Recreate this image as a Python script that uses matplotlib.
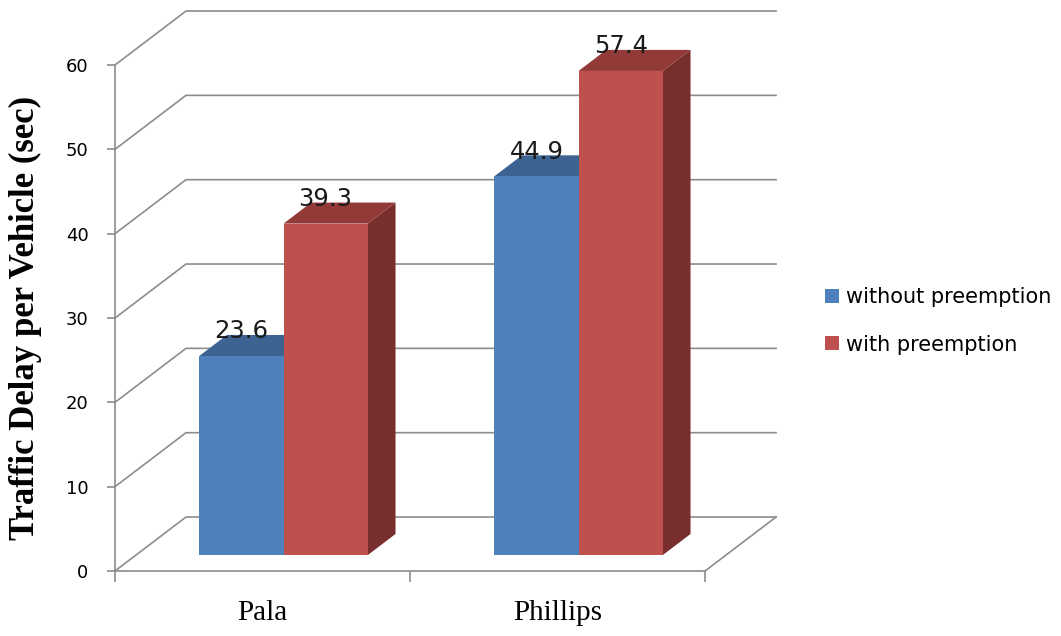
import matplotlib.pyplot as plt
from matplotlib.patches import Polygon, Patch

# Traffic delay per vehicle (sec) at each intersection
sites = ['Pala', 'Phillips']
without_preemption = [23.6, 44.9]
with_preemption = [39.3, 57.4]
series_names = ['without preemption', 'with preemption']
y_ticks = [0, 10, 20, 30, 40, 50, 60]

# face colours: front, top, side
blue = ('#4F81BD', '#3D6392', '#35567F')
red = ('#C0504D', '#923A38', '#782E2C')
grid_c = '#8c8c8c'

# oblique offset of the back wall, in data units
DX, DY = 0.2407, 6.4
# the bars sit between these fractions of the floor depth
D0, D1 = 0.296, 0.686
bar_w = 1 / 3.5   # two bars plus a 150 % gap per category

fig = plt.figure(figsize=(10.61, 6.36), dpi=100)
ax = fig.add_axes([0.1084, 0.1022, 0.5561, 0.7956])
ax.set_xlim(0, 2)
ax.set_ylim(0, 60)
ax.patch.set_alpha(0)

# back wall gridlines and floor outline
for v in y_ticks:
    ax.plot([0, DX, 2 + DX], [v, v + DY, v + DY], color=grid_c, lw=1.2,
            clip_on=False, zorder=1)
ax.plot([2, 2 + DX], [0, DY], color=grid_c, lw=1.2, clip_on=False, zorder=1)


def draw_bar(x0, v, cols, z):
    front, top, side = cols
    ox, oy = D0 * DX, D0 * DY
    dx, dy = (D1 - D0) * DX, (D1 - D0) * DY
    xa, xb = x0 + ox, x0 + ox + bar_w
    faces = [
        ([(xb, oy), (xb + dx, oy + dy), (xb + dx, v + oy + dy), (xb, v + oy)], side),
        ([(xa, v + oy), (xb, v + oy), (xb + dx, v + oy + dy), (xa + dx, v + oy + dy)], top),
        ([(xa, oy), (xb, oy), (xb, v + oy), (xa, v + oy)], front),
    ]
    for pts, c in faces:
        ax.add_patch(Polygon(pts, closed=True, fc=c, ec='none', clip_on=False, zorder=z))
    ax.text((xa + xb) / 2, v + oy + 2.1, f'{v}', ha='center', va='baseline',
            fontsize=17.5, color='#1a1a1a', zorder=z + 0.5)


z = 2
for i in range(len(sites)):
    c = i + 0.5
    draw_bar(c - bar_w, without_preemption[i], blue, z)
    draw_bar(c, with_preemption[i], red, z + 1)
    z += 2

# front axes
for s in ('top', 'right'):
    ax.spines[s].set_visible(False)
for s in ('left', 'bottom'):
    ax.spines[s].set_color(grid_c)
    ax.spines[s].set_linewidth(1.2)

ax.set_yticks(y_ticks)
ax.tick_params(axis='y', length=6, width=1.2, color=grid_c, pad=13, labelsize=13)
ax.set_xticks([0, 1, 2])
ax.set_xticklabels([])
ax.tick_params(axis='x', which='major', length=8, width=1.2, color=grid_c)
ax.set_xticks([0.5, 1.5], minor=True)
ax.set_xticklabels(sites, minor=True, fontfamily='Liberation Serif', fontsize=21)
ax.tick_params(axis='x', which='minor', length=0, pad=21)

fig.text(25 / 1061, 1 - 318 / 636, 'Traffic Delay per Vehicle (sec)', rotation=90,
         ha='center', va='center', fontfamily='Liberation Serif', fontweight='bold',
         fontsize=25)

handles = [Patch(fc=blue[0], ec='none'), Patch(fc=red[0], ec='none')]
fig.legend(handles, series_names, loc='center left',
           bbox_to_anchor=(825 / 1061, 1 - 321 / 636), frameon=False, fontsize=15,
           handlelength=0.65, handleheight=0.65, handletextpad=0.35,
           labelspacing=1.3, borderpad=0, borderaxespad=0)

fig.savefig('out.png', dpi=100, facecolor='white')
